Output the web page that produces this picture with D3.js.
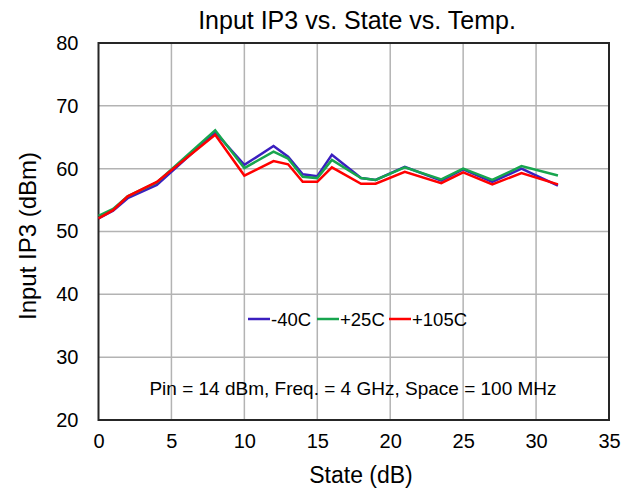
<!DOCTYPE html>
<html><head><meta charset="utf-8">
<script src="https://cdn.jsdelivr.net/npm/d3@7"></script>
<style>body{margin:0;background:#fff}svg{display:block;font-family:"Liberation Sans",Arial,sans-serif}</style>
</head><body>
<svg id="c" width="634" height="491"></svg>
<script>
const states = [0, 1, 2, 4, 8, 10, 12, 13, 14, 15, 16, 18, 19, 21, 23.5, 25, 27, 29, 31.5];
const m40C  = [52.1, 53.3, 55.3, 57.4, 65.8, 60.6, 63.6, 61.9, 59.1, 58.8, 62.2, 58.5, 58.2, 60.3, 58.1, 59.9, 57.9, 60.0, 57.3];
const p25C  = [52.5, 53.6, 55.6, 57.8, 66.1, 60.1, 62.7, 61.6, 58.7, 58.5, 61.4, 58.5, 58.2, 60.2, 58.3, 60.0, 58.2, 60.4, 58.9];
const p105C = [52.1, 53.4, 55.6, 57.9, 65.4, 58.9, 61.2, 60.7, 57.9, 57.9, 60.2, 57.6, 57.6, 59.5, 57.7, 59.4, 57.5, 59.3, 57.5];
const seriesNames = ["-40C", "+25C", "+105C"];
const seriesColors = ["#3a1fbf", "#17a54e", "#ff0000"];
const xTicks = [0, 5, 10, 15, 20, 25, 30, 35];
const yTicks = [20, 30, 40, 50, 60, 70, 80];
const title = "Input IP3 vs. State vs. Temp.";
const xTitle = "State (dB)";
const yTitle = "Input IP3 (dBm)";
const note = "Pin = 14 dBm, Freq. = 4 GHz, Space = 100 MHz";

const svg = d3.select("#c");
const L = 98.5, R = 609, T = 43, B = 420;
const x = d3.scaleLinear().domain([0, 35]).range([L, R]);
const y = d3.scaleLinear().domain([20, 80]).range([B, T]);

// grid
const g = svg.append("g");
g.selectAll("line.vx").data(xTicks.slice(1, -1)).join("line")
  .attr("x1", d => x(d)).attr("x2", d => x(d)).attr("y1", T).attr("y2", B)
  .attr("stroke", "#b3b3b3").attr("stroke-width", 1.5);
g.selectAll("line.hy").data(yTicks.slice(1, -1)).join("line")
  .attr("y1", d => y(d)).attr("y2", d => y(d)).attr("x1", L).attr("x2", R)
  .attr("stroke", "#b3b3b3").attr("stroke-width", 1.5);

// axes via d3 (labels only)
const xAxis = svg.append("g").attr("transform", `translate(0,${B})`)
  .call(d3.axisBottom(x).tickValues(xTicks).tickSize(0).tickPadding(14));
const yAxis = svg.append("g").attr("transform", `translate(${L},0)`)
  .call(d3.axisLeft(y).tickValues(yTicks).tickSize(0).tickPadding(20));
[xAxis, yAxis].forEach(a => {
  a.select(".domain").remove();
  a.selectAll("text").attr("font-size", 20).attr("fill", "#000").attr("font-family", "Liberation Sans, Arial, sans-serif");
});

// frame
svg.append("rect").attr("x", L).attr("y", T).attr("width", R - L).attr("height", B - T)
  .attr("fill", "none").attr("stroke", "#262626").attr("stroke-width", 2);

// lines
const allSeries = [m40C, p25C, p105C];
const line = d3.line().x((d, i) => x(states[i])).y(d => y(d));
svg.append("g").selectAll("path").data(allSeries).join("path")
  .attr("d", line).attr("fill", "none")
  .attr("stroke", (d, i) => seriesColors[i]).attr("stroke-width", 2.5)
  .attr("stroke-linejoin", "miter");

// legend
const leg = svg.append("g").attr("font-size", 18.5);
const legX = [248, 317, 389];
seriesNames.forEach((n, i) => {
  leg.append("line").attr("x1", legX[i]).attr("x2", legX[i] + 22).attr("y1", 319).attr("y2", 319)
    .attr("stroke", seriesColors[i]).attr("stroke-width", 2.5);
  leg.append("text").attr("x", legX[i] + 23).attr("y", 325.5).text(n);
});

// texts
svg.append("text").attr("x", 357).attr("y", 29).attr("text-anchor", "middle").attr("font-size", 25).text(title);
svg.append("text").attr("x", 361).attr("y", 483).attr("text-anchor", "middle").attr("font-size", 23).text(xTitle);
svg.append("text").attr("transform", "translate(36,236) rotate(-90)").attr("text-anchor", "middle").attr("font-size", 24).text(yTitle);
svg.append("text").attr("x", 353).attr("y", 395).attr("text-anchor", "middle").attr("font-size", 19).text(note);
</script>
</body></html>
